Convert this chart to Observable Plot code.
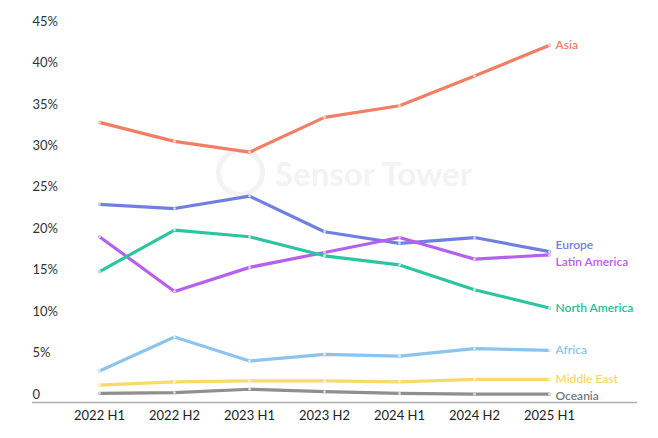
<!DOCTYPE html>
<html>
<head>
<meta charset="utf-8">
<script src="https://cdn.jsdelivr.net/npm/d3@7"></script>
<script src="https://cdn.jsdelivr.net/npm/@observablehq/plot@0.6"></script>
<style>
  html, body { margin: 0; padding: 0; background: #fff; }
  #chart { width: 658px; height: 438px; }
  svg { font-family: Lato, "Noto Sans", sans-serif; }
</style>
</head>
<body>
<div id="chart"></div>
<script>
const periods = ["2022 H1", "2022 H2", "2023 H1", "2023 H2", "2024 H1", "2024 H2", "2025 H1"];
const regions = ["Asia", "Europe", "Latin America", "North America", "Africa", "Middle East", "Oceania"];
const asia         = [33.8, 31.5, 30.2, 34.4, 35.8, 39.4, 43.1];
const europe       = [23.9, 23.4, 24.9, 20.6, 19.2, 19.9, 18.2];
const latinAmerica = [20.0, 13.4, 16.3, 18.1, 19.9, 17.3, 17.8];
const northAmerica = [15.8, 20.8, 20.0, 17.7, 16.6, 13.6, 11.4];
const africa       = [3.8, 7.9, 5.0, 5.8, 5.6, 6.5, 6.3];
const middleEast   = [2.1, 2.5, 2.6, 2.6, 2.5, 2.8, 2.8];
const oceania      = [1.1, 1.2, 1.6, 1.3, 1.1, 1.0, 1.0];
const yTicks = [0, 5, 10, 15, 20, 25, 30, 35, 40, 45];

const seriesValues = [asia, europe, latinAmerica, northAmerica, africa, middleEast, oceania];
const colors = ["#f07f66", "#6f80e0", "#b760ee", "#2dc4a2", "#8cc4ee", "#f8da6c", "#8f8f8f"];
const labelColors = ["#ee7b63", "#6f80e0", "#b760ee", "#22bf9c", "#8cc4ee", "#f8d866", "#777777"];

const data = regions.flatMap((r, i) => periods.map((p, j) => ({region: r, period: p, value: seriesValues[i][j]})));
const last = data.filter(d => d.period === periods[periods.length - 1]);
const labelFill = d => labelColors[regions.indexOf(d.region)];
const labelOpts = {x: "period", y: "value", text: "region", textAnchor: "start", dx: 6, fontSize: 12, fontWeight: 600, fill: labelFill};

const plot = Plot.plot({
  width: 658,
  height: 438,
  marginLeft: 32,
  marginRight: 21,
  marginTop: 29,
  marginBottom: 36,
  style: {fontFamily: "Lato, 'Noto Sans', sans-serif", background: "#fff"},
  x: {type: "point", domain: periods, range: [97, 551], padding: 0, label: null},
  y: {domain: [0, 45], label: null},
  color: {domain: regions, range: colors},
  marks: [
    Plot.axisY(yTicks, {
      anchor: "left", tickSize: 0, tickPadding: 0, textAnchor: "start", dy: -8,
      fontSize: 13, fill: "#333", tickFormat: d => d === 0 ? "0" : d + "%",
      label: null
    }),
    Plot.gridY(yTicks.filter(d => d > 0), {stroke: "#e6e6e6", strokeOpacity: 1, x1: 32, x2: 637}),
    Plot.ruleY([0], {stroke: "#b0b0b0", strokeWidth: 1.5}),
    Plot.axisX({tickSize: 0, tickPadding: 8, fontSize: 13, fill: "#222", label: null}),
    Plot.dot([0], {frameAnchor: "top-left", dx: 208, dy: 143, r: 22, stroke: "#f3f3f3", strokeWidth: 5, fill: "none"}),
    Plot.text(["Sensor Tower"], {frameAnchor: "top-left", dx: 341, dy: 133, fontSize: 33, fontWeight: "bold", fill: "#f3f3f3", textAnchor: "middle"}),
    Plot.line(data, {x: "period", y: "value", z: "region", stroke: "region", strokeWidth: 3.2, strokeLinejoin: "round", strokeLinecap: "round"}),
    Plot.dot(data, {x: "period", y: "value", r: 1.4, fill: "#fff", fillOpacity: 0.7}),
    Plot.text(last.filter(d => d.region === "Europe"), {...labelOpts, dy: -6}),
    Plot.text(last.filter(d => d.region === "Latin America"), {...labelOpts, dy: 7}),
    Plot.text(last.filter(d => d.region === "Oceania"), {...labelOpts, dy: 2}),
    Plot.text(last.filter(d => !["Europe", "Latin America", "Oceania"].includes(d.region)), labelOpts)
  ]
});

document.getElementById("chart").appendChild(plot);
</script>
</body>
</html>
